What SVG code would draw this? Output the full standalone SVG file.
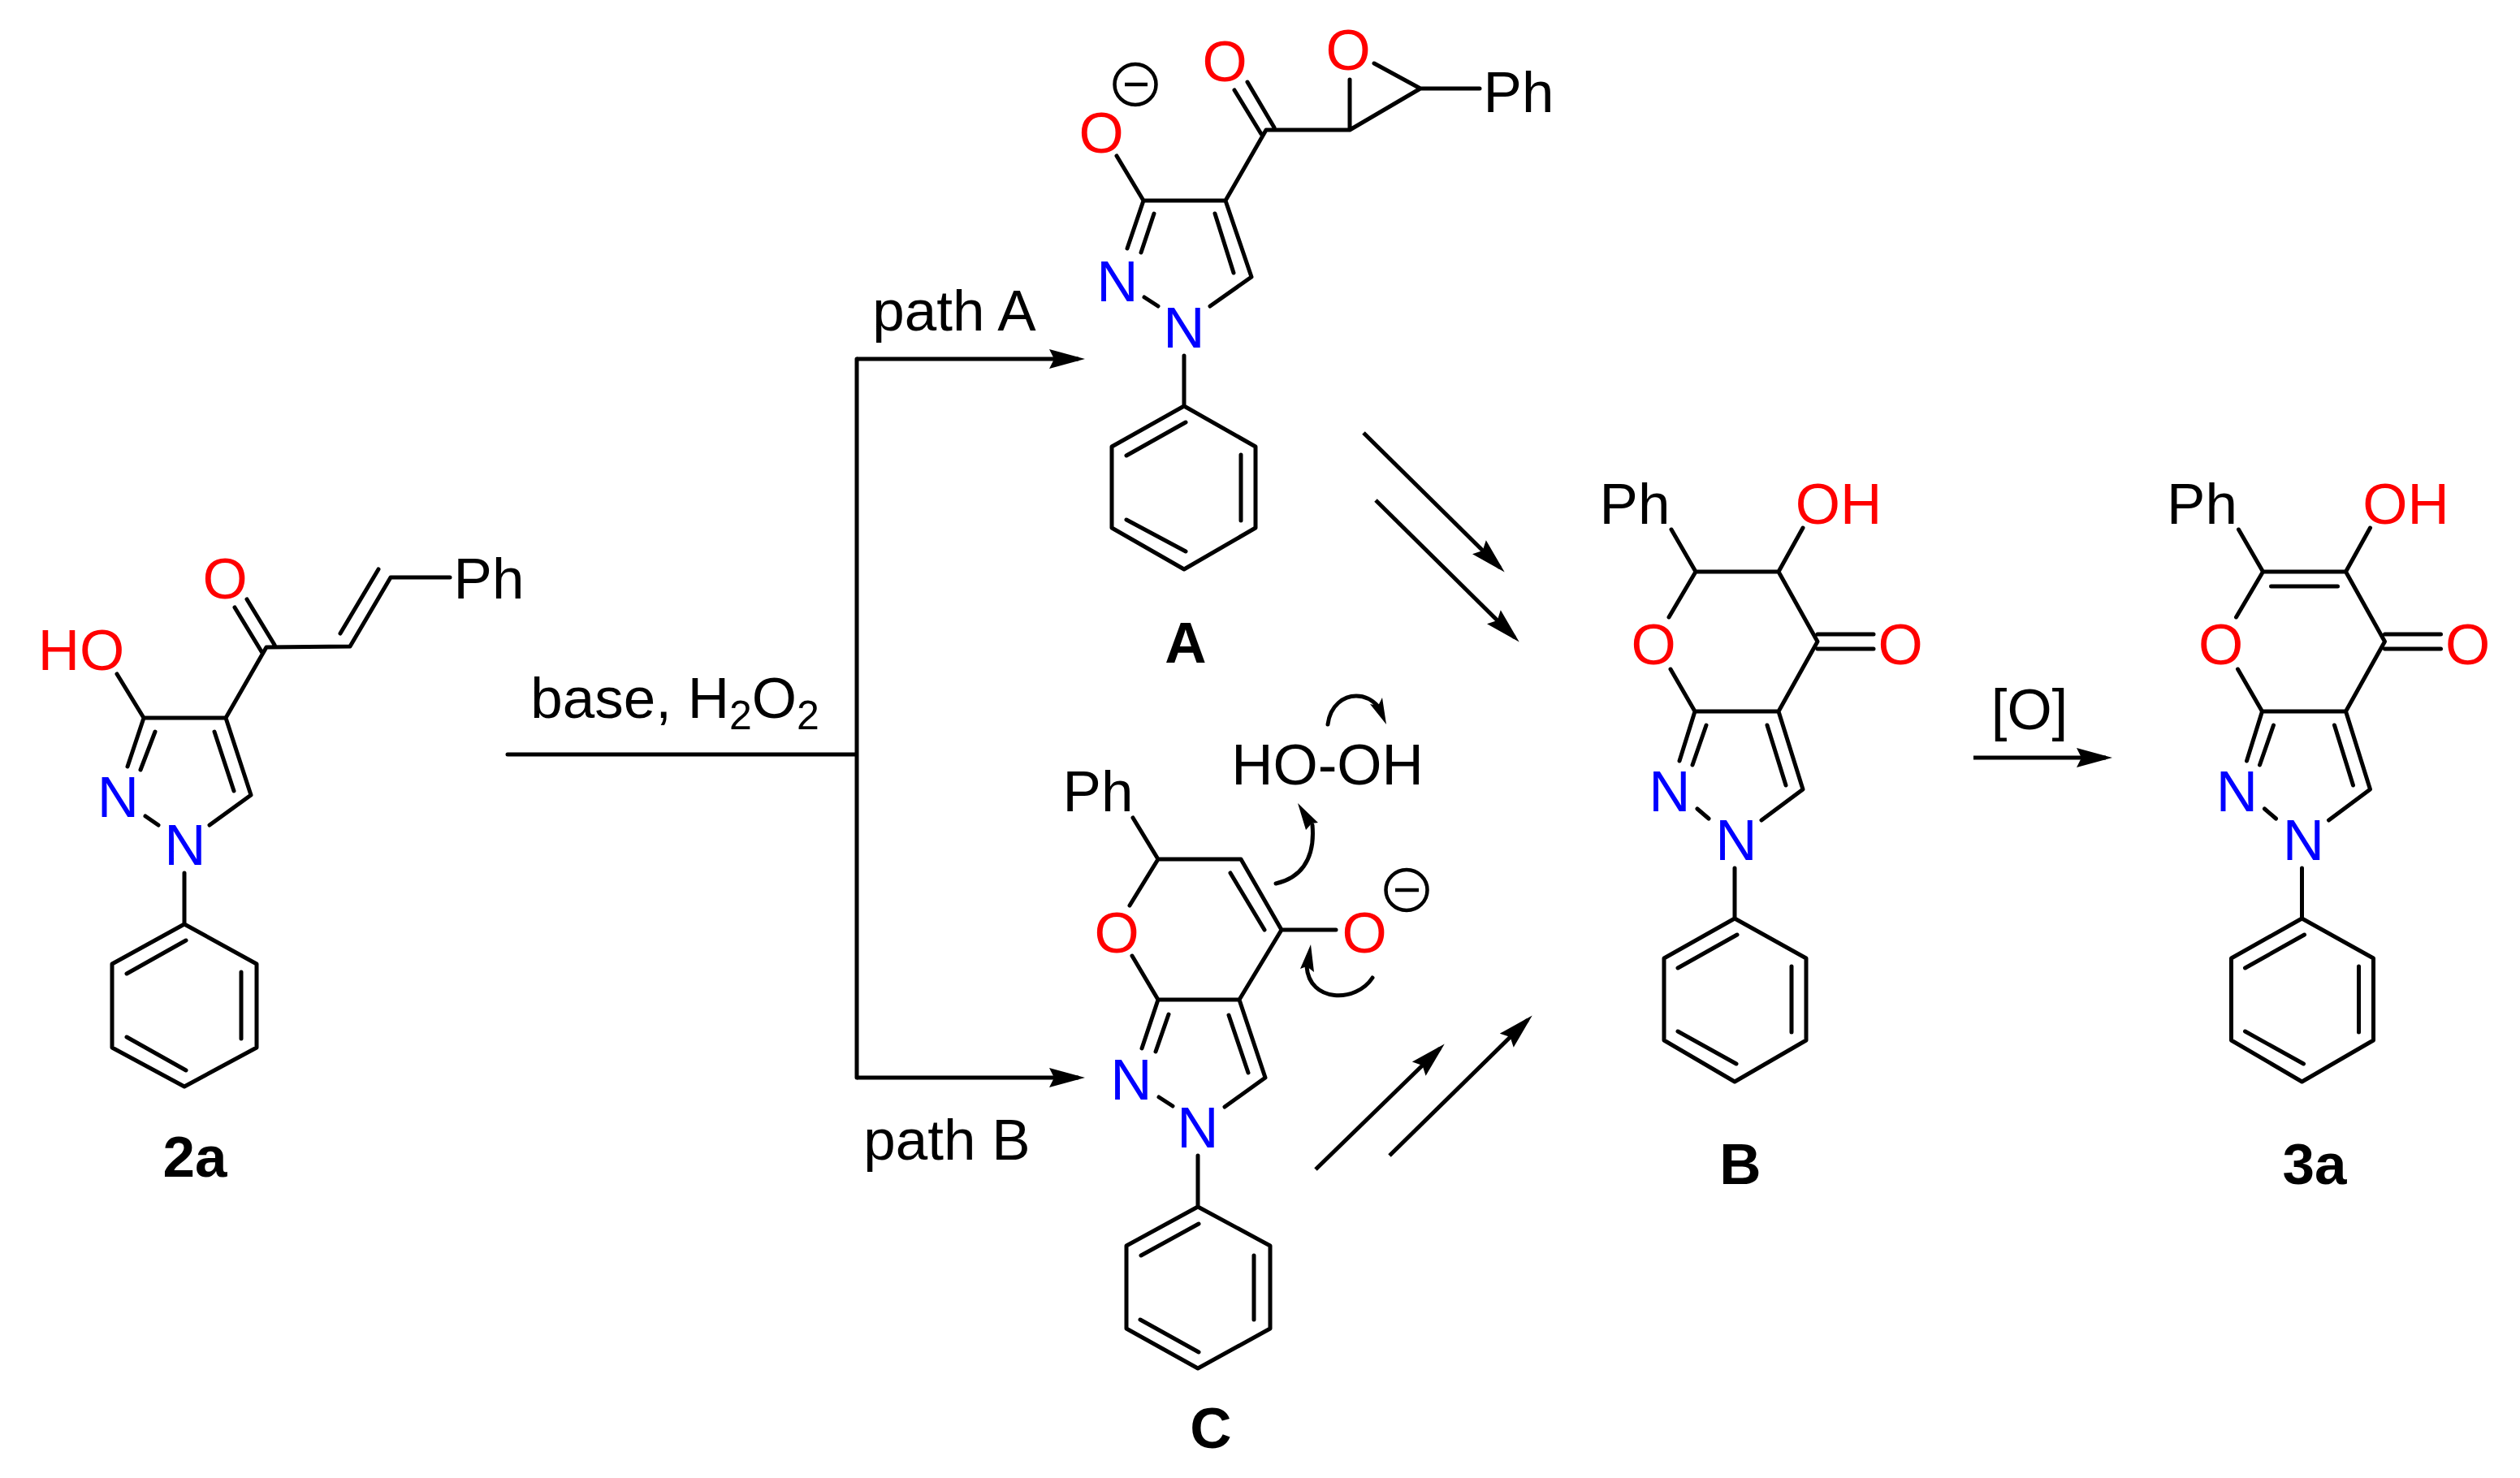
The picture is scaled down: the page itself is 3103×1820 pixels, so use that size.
<svg xmlns="http://www.w3.org/2000/svg" width="3103" height="1820" viewBox="0 0 3103 1820">
<style>
.b{fill:none;stroke:#000;stroke-width:5;stroke-linecap:round;stroke-linejoin:round}
.t{font-family:"Liberation Sans",Arial,sans-serif;font-size:71px;text-anchor:middle;fill:#000}
.r{fill:#f00}.n{fill:#00f}.l{font-weight:bold}
.m{fill:none;stroke:#000;stroke-width:4.5}
.a{fill:none;stroke:#000;stroke-width:5;marker-end:url(#h)}
.c{fill:none;stroke:#000;stroke-width:5;stroke-linecap:round}
</style>
<defs>
<marker id="h" markerUnits="userSpaceOnUse" markerWidth="46" markerHeight="26" viewBox="0 -13 46 26" refX="36" refY="0" orient="auto"><path d="M44,0L0,-12L6,0L0,12Z" fill="#000"/></marker>
</defs>
<rect width="3103" height="1820" fill="#fff"/>
<g id="node-2a">
<path class="b" d="M144,830L177,884L278,884L309,979L258,1016M157,944L177,884M173,948L191,901M264,901L288,974M179,1005L195,1016M278,884L328,797L431,796L481,711L554,711M323,804L289,748M338,794L304,738M419,780L466,701M227,1075V1138L316,1187V1290L227,1338L138,1290V1187L227,1138M156,1199L229,1158M297,1197V1279M156,1277L229,1318"/>
<text class="t r" x="100" y="825">HO</text>
<text class="t r" x="277" y="737">O</text>
<text class="t" x="602" y="737">Ph</text>
<text class="t n" x="145.500" y="1006">N</text>
<text class="t n" x="228" y="1065">N</text>
<text class="t l" x="240" y="1449">2a</text>
</g>
<g id="node-A">
<path class="b" d="M1375,192L1408,247L1509,247L1541,341L1490,377M1388,306L1408,247M1405,311L1421,263M1496,263L1519,336M1409,366L1426,377M1509,247L1559,160L1662,160L1749,109L1822,109M1553,165L1520,111M1569,157L1536,101M1662,160V98M1749,109L1692,78M1458,438V500L1546,550V650L1458,701L1369,650V550L1458,500M1387,561L1460,520M1528,560V641M1387,640L1460,679"/>
<text class="t r" x="1356" y="188">O</text>
<text class="t r" x="1508" y="100">O</text>
<text class="t r" x="1660" y="86">O</text>
<text class="t" x="1870" y="138">Ph</text>
<text class="t n" x="1376" y="371">N</text>
<text class="t n" x="1458" y="428">N</text>
<text class="t l" x="1460" y="816">A</text>
<ellipse class="m" cx="1398" cy="104" rx="25.500" ry="25"/><path class="m" d="M1385,104H1413"/>
</g>
<g id="node-C">
<path class="b" d="M1395,1007L1426,1058L1528,1058L1578,1145L1526,1231L1426,1231L1394,1177M1426,1058L1391,1115M1515,1075L1557,1145M1578,1145H1645M1526,1231L1558,1327L1508,1363M1513,1250L1537,1321M1426,1231L1406,1291M1439,1249L1423,1295M1427,1351L1444,1362M1475,1423V1486L1564,1534V1636L1475,1685L1387,1636V1534L1475,1486M1405,1546L1476,1507M1544,1546V1625M1404,1625L1476,1665"/>
<text class="t r" x="1375" y="1173">O</text>
<text class="t r" x="1680" y="1173">O</text>
<text class="t" x="1352" y="999">Ph</text>
<text class="t n" x="1393" y="1354">N</text>
<text class="t n" x="1475" y="1413">N</text>
<text class="t l" x="1491" y="1783">C</text>
<ellipse class="m" cx="1732" cy="1096" rx="25.500" ry="25"/><path class="m" d="M1718,1096H1747"/>
</g>
<g id="node-H2O2">
<text class="t" x="1634.500" y="966">HO-OH</text>
</g>
<g id="node-B">
<path class="b" d="M2058,652L2088,704L2190,704L2238,790L2190,876L2087,876L2057,824M2088,704L2055,760M2220,650L2190,704M2238,781H2307M2238,799H2307M2190,876L2220,972L2169,1010M2176,893L2199,967M2087,876L2068,937M2101,893L2084,942M2090,996L2104,1008M2136,1069V1131L2224,1180V1281L2136,1332L2049,1281V1180L2136,1131M2066,1192L2139,1151M2206,1190V1271M2066,1270L2138,1310"/>
<text class="t r" x="2036" y="818">O</text>
<text class="t r" x="2340" y="818">O</text>
<text class="t r" x="2264" y="645">OH</text>
<text class="t" x="2013" y="645">Ph</text>
<text class="t n" x="2056" y="999">N</text>
<text class="t n" x="2138" y="1059">N</text>
<text class="t l" x="2143" y="1458">B</text>
</g>
<g id="node-3a">
<g transform="translate(698.500,0)">
<path class="b" d="M2058,652L2088,704L2190,704L2238,790L2190,876L2087,876L2057,824M2088,704L2055,760M2220,650L2190,704M2238,781H2307M2238,799H2307M2190,876L2220,972L2169,1010M2176,893L2199,967M2087,876L2068,937M2101,893L2084,942M2090,996L2104,1008M2136,1069V1131L2224,1180V1281L2136,1332L2049,1281V1180L2136,1131M2066,1192L2139,1151M2206,1190V1271M2066,1270L2138,1310M2098,722H2180"/>
<text class="t r" x="2036" y="818">O</text>
<text class="t r" x="2340" y="818">O</text>
<text class="t r" x="2264" y="645">OH</text>
<text class="t" x="2013" y="645">Ph</text>
<text class="t n" x="2056" y="999">N</text>
<text class="t n" x="2138" y="1059">N</text>
</g>
<text class="t l" x="2850" y="1458">3a</text>
</g>
<g id="connectors">
<path class="b" d="M625,929H1055M1055,442V1327"/>
<path class="a" d="M1055,442H1328"/>
<path class="a" d="M1055,1327H1328"/>
<path class="a" d="M1679,533L1847,699"/>
<path class="a" d="M1694,616L1865,785"/>
<path class="a" d="M1620,1440L1773,1291"/>
<path class="a" d="M1711,1423L1881,1256"/>
<path class="a" d="M2430,933H2593"/>
<path class="c" d="M1635,892C1638,868 1655,857 1670,857C1680,857 1690,862 1697,870"/>
<path d="M1707,892L1702,859L1697,869L1687,867Z"/>
<path class="c" d="M1571,1088C1598,1082 1620,1062 1616,1016"/>
<path d="M1598,989L1623,1013L1615,1014L1608,1022Z"/>
<path class="c" d="M1690,1204C1670,1235 1612,1235 1609,1190"/>
<path d="M1614,1163L1601,1193L1609,1190L1618,1197Z"/>
<text class="t" x="831" y="884">base, H<tspan font-size="50" dy="14">2</tspan><tspan dy="-14">O</tspan><tspan font-size="50" dy="14">2</tspan></text>
<text class="t" x="1175" y="407">path A</text>
<text class="t" x="1166" y="1428">path B</text>
<text class="t" x="2499" y="898">[O]</text>
</g>
</svg>
